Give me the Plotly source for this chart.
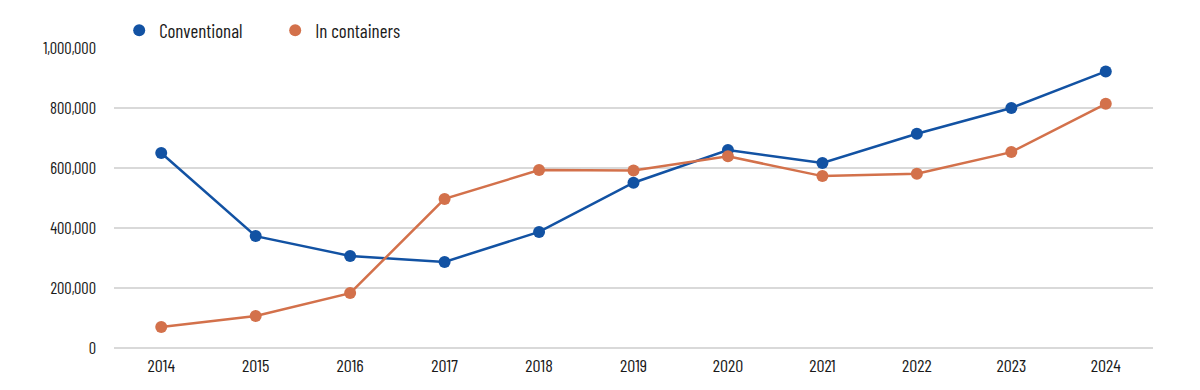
import plotly.graph_objects as go

years = ["2014", "2015", "2016", "2017", "2018", "2019", "2020", "2021", "2022", "2023", "2024"]
conventional = [650000, 373000, 307000, 287000, 387000, 551000, 660000, 617000, 714000, 800000, 922000]
in_containers = [70000, 107000, 183000, 497000, 593000, 592000, 639000, 573000, 581000, 653000, 814000]
y_ticks = [0, 200000, 400000, 600000, 800000, 1000000]
series_names = ["Conventional", "In containers"]

FONT = "Barlow Condensed, Roboto Condensed, DejaVu Sans Condensed, sans-serif"
BLUE = "#1252a3"
ORANGE = "#d3714b"
GRID = "#d9d9d9"
TEXT = "#1a1a1a"

fig = go.Figure()
for name, vals, col in [(series_names[0], conventional, BLUE), (series_names[1], in_containers, ORANGE)]:
    fig.add_trace(go.Scatter(x=years, y=vals, name=name, mode="lines+markers", showlegend=False,
                             line=dict(color=col, width=2.5), marker=dict(color=col, size=12)))
for name, col in [(series_names[0], BLUE), (series_names[1], ORANGE)]:
    fig.add_trace(go.Scatter(x=[None], y=[None], name=name, mode="markers",
                             marker=dict(color=col, size=12)))

# the page body adds an 8px offset, so margins are compensated
fig.update_layout(
    width=1200, height=390,
    margin=dict(l=106, r=55, t=40, b=50, autoexpand=False),
    paper_bgcolor="white", plot_bgcolor="white",
    font=dict(family=FONT, size=18, color=TEXT),
    showlegend=True,
    legend=dict(orientation="h", x=0.005, xanchor="left", y=0.995, yanchor="bottom",
                font=dict(size=19, color=TEXT), entrywidth=111, itemwidth=30,
                bgcolor="rgba(0,0,0,0)"),
    xaxis=dict(type="category", range=[-0.5, 10.5], showgrid=False, showline=False, zeroline=False,
               ticks="", ticklabelstandoff=5, automargin=False, tickfont=dict(size=18)),
    yaxis=dict(range=[0, 1000000], tickvals=y_ticks, tickformat=",d", showgrid=True,
               gridcolor=GRID, gridwidth=1.5, zeroline=True, zerolinecolor=GRID, zerolinewidth=1.5,
               showline=False, ticks="", ticklabelstandoff=17, automargin=False, tickfont=dict(size=16.5)),
)

fig.write_html("out.html")
